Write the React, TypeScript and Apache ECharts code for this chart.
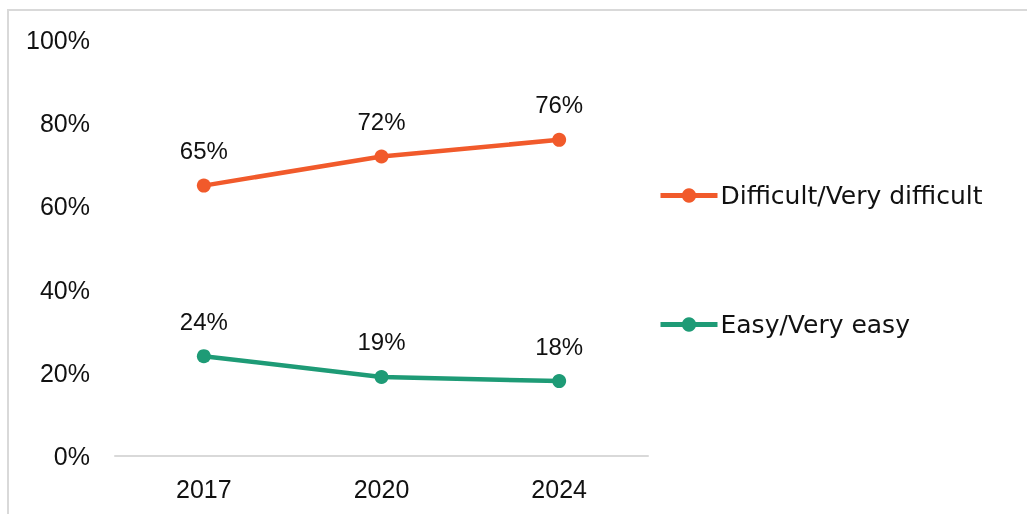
import React, { useEffect, useRef } from "react";
import * as echarts from "echarts";

const years = ["2017", "2020", "2024"];
const difficult = [65, 72, 76];
const easy = [24, 19, 18];
const seriesNames = ["Difficult/Very difficult", "Easy/Very easy"];
const colors = ["#F15A2B", "#1E9B76"];
const NUM_FONT = "Liberation Sans";
const LEG_FONT = "DejaVu Sans";

export default function App() {
  const ref = useRef<HTMLDivElement>(null);
  useEffect(() => {
    if (!ref.current) return;
    const chart = echarts.init(ref.current, null, { renderer: "svg" });
    const mk = (name: string, data: number[], color: string) => ({
      name,
      type: "line",
      data,
      color,
      symbol: "circle",
      symbolSize: 14,
      lineStyle: { width: 4.5, color },
      itemStyle: { color },
      label: {
        show: true,
        position: "top",
        distance: 16,
        formatter: (p: any) => p.value + "%",
        fontFamily: NUM_FONT,
        fontSize: 24,
        color: "#111",
      },
    });
    chart.setOption({
      animation: false,
      textStyle: { fontFamily: NUM_FONT },
      grid: { left: 115, top: 40, width: 533, height: 416, containLabel: false },
      xAxis: {
        type: "category",
        data: years,
        boundaryGap: true,
        axisLine: { lineStyle: { color: "#d9d9d9", width: 2 } },
        axisTick: { show: false },
        axisLabel: { fontFamily: NUM_FONT, fontSize: 25, color: "#111", margin: 20 },
      },
      yAxis: {
        type: "value",
        min: 0,
        max: 100,
        interval: 20,
        splitLine: { show: false },
        axisLine: { show: false },
        axisTick: { show: false },
        axisLabel: {
          fontFamily: NUM_FONT,
          fontSize: 25,
          color: "#111",
          margin: 25,
          formatter: (v: number) => v + "%",
        },
      },
      legend: {
        orient: "vertical",
        left: 658,
        top: 183,
        padding: 0,
        itemWidth: 57,
        itemHeight: 18,
        itemGap: 104,
        data: seriesNames,
        lineStyle: { width: 5 },
        textStyle: { fontFamily: LEG_FONT, fontSize: 25, color: "#111", padding: [0, 0, 0, -2] },
      },
      series: [mk(seriesNames[0], difficult, colors[0]), mk(seriesNames[1], easy, colors[1])],
    });
    return () => chart.dispose();
  }, []);
  return (
    <>
      <div
        style={{
          position: "fixed",
          left: 7,
          top: 9,
          width: 1030,
          height: 530,
          border: "2px solid #d9d9d9",
          boxSizing: "border-box",
        }}
      />
      <div ref={ref} style={{ position: "fixed", left: 0, top: 0, width: 1027, height: 514 }} />
    </>
  );
}
